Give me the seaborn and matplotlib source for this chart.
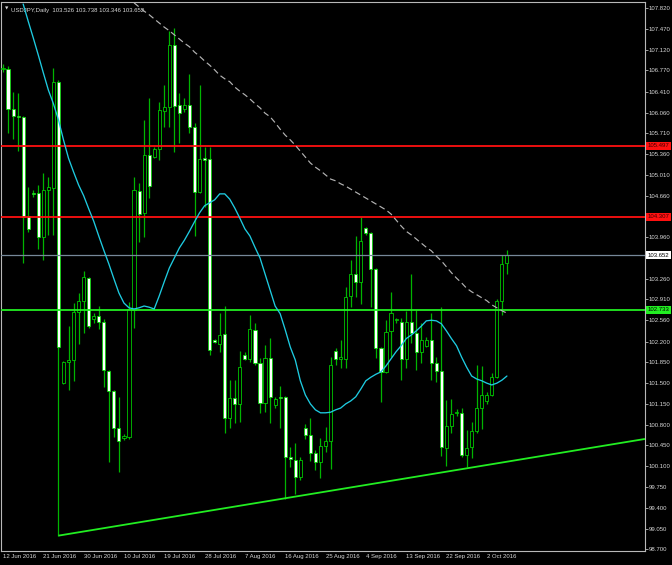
import matplotlib
matplotlib.use("Agg")
import matplotlib.pyplot as plt
import numpy as np
import pandas as pd
import seaborn as sns

# USDJPY daily bars (broker feed with Sunday bars), 12 Jun - 6 Oct 2016
opens = [106.80, 106.80, 106.12, 106.00, 105.99, 104.32, 104.70, 104.70, 103.96, 104.76,
         104.79, 106.58, 101.50, 101.86, 101.89, 102.70, 102.89, 103.27, 102.58, 102.63,
         102.53, 101.71, 101.37, 100.74, 100.58, 100.59, 102.73, 104.74, 104.37, 105.35,
         105.31, 105.45, 106.09, 106.15, 107.20, 106.19, 106.12, 106.19, 105.82, 104.72,
         105.29, 105.28, 102.23, 102.16, 102.33, 100.91, 101.25, 101.15, 101.97, 101.91,
         102.40, 101.84, 101.17, 101.92, 101.13, 101.27, 101.27, 100.26, 100.21, 99.92,
         100.74, 100.63, 100.32, 100.17, 100.44, 100.53, 102.04, 101.90, 101.91, 102.97,
         103.34, 103.21, 104.12, 104.03, 103.42, 102.09, 101.69, 102.38, 102.56, 102.53,
         101.91, 102.53, 102.35, 102.03, 102.13, 102.23, 101.84, 101.71, 100.41, 100.78,
         101.00, 101.00, 100.29, 100.42, 100.69, 101.08, 101.20, 101.30, 101.60, 102.89,
         103.526]
highs = [106.88, 106.85, 106.41, 106.39, 106.00, 104.81, 104.76, 104.84, 105.04, 104.97,
         106.81, 106.61, 101.87, 102.46, 102.85, 103.02, 103.39, 103.29, 102.68, 102.80,
         102.58, 101.72, 101.39, 101.27, 100.64, 102.87, 104.98, 104.87, 105.94, 106.31,
         105.48, 106.24, 106.53, 107.44, 107.49, 106.39, 106.31, 106.71, 105.89, 106.53,
         105.48, 105.48, 102.25, 102.68, 102.80, 101.55, 101.55, 102.04, 102.03, 102.65,
         102.51, 101.92, 102.14, 102.26, 101.27, 101.45, 101.29, 100.42, 100.49, 100.26,
         100.81, 100.91, 100.37, 100.58, 100.76, 101.94, 102.09, 102.23, 103.12, 103.58,
         103.98, 104.30, 104.14, 104.05, 103.44, 102.11, 102.56, 103.04, 102.60, 102.60,
         102.72, 103.34, 102.73, 102.51, 102.28, 102.68, 101.94, 102.78, 101.22, 101.23,
         101.07, 101.08, 100.71, 100.85, 101.81, 101.79, 101.35, 101.67, 102.92, 103.66,
         103.738]
lows = [106.74, 105.72, 105.62, 105.41, 103.53, 104.05, 104.64, 103.76, 103.58, 104.00,
        104.00, 98.93, 101.49, 101.39, 101.54, 102.16, 102.35, 102.43, 102.51, 102.41,
        101.44, 100.17, 100.59, 100.00, 100.54, 100.56, 102.43, 103.88, 103.96, 104.62,
        105.30, 105.26, 105.82, 105.82, 105.40, 105.55, 106.07, 105.72, 103.98, 104.70,
        104.47, 101.97, 102.18, 102.03, 100.66, 100.74, 100.83, 100.85, 101.89, 101.86,
        101.81, 100.99, 101.01, 100.83, 101.08, 100.74, 99.55, 100.09, 99.63, 99.87,
        100.56, 100.19, 100.04, 99.90, 100.34, 100.05, 101.81, 101.76, 101.76, 102.78,
        102.95, 102.83, 104.00, 102.78, 101.92, 101.18, 101.67, 101.94, 102.51, 101.55,
        101.76, 102.18, 101.72, 101.84, 102.11, 101.55, 101.52, 100.27, 100.10, 100.66,
        100.95, 100.26, 100.09, 100.24, 100.66, 100.73, 101.15, 101.28, 101.59, 102.65,
        103.346]
closes = [106.82, 106.12, 106.00, 105.99, 104.30, 104.10, 104.69, 103.96, 104.76, 104.81,
          106.58, 102.11, 101.86, 101.89, 102.70, 102.89, 103.29, 102.46, 102.63, 102.53,
          101.72, 101.37, 100.74, 100.53, 100.61, 102.75, 104.76, 104.35, 105.35, 104.82,
          105.45, 106.10, 106.15, 107.20, 106.17, 106.05, 106.19, 105.82, 104.72, 105.28,
          105.26, 102.06, 102.19, 102.31, 100.91, 101.25, 101.15, 101.77, 101.91, 102.41,
          101.84, 101.17, 101.92, 101.27, 101.23, 101.25, 100.26, 100.22, 99.92, 100.21,
          100.63, 100.32, 100.17, 100.44, 100.53, 101.81, 101.91, 101.94, 102.95, 103.34,
          103.21, 103.90, 104.03, 103.42, 102.09, 101.69, 102.36, 102.68, 102.58, 101.91,
          102.53, 102.35, 102.03, 102.23, 102.23, 101.84, 101.70, 100.42, 100.78, 100.98,
          101.01, 100.29, 100.41, 100.69, 101.08, 101.30, 101.30, 101.60, 102.89, 103.51,
          103.652]

# fast moving average (cyan), visible from bar 4
ma_fast_start = 4
ma_fast = [107.89, 107.60, 107.32, 107.03, 106.73, 106.44, 106.21, 105.94, 105.60, 105.29,
           105.06, 104.84, 104.66, 104.44, 104.23, 103.98, 103.74, 103.51, 103.26, 103.02,
           102.85, 102.77, 102.75, 102.77, 102.80, 102.78, 102.75, 102.97, 103.21, 103.44,
           103.61, 103.78, 103.91, 104.06, 104.22, 104.37, 104.49, 104.54, 104.59, 104.69,
           104.69, 104.60, 104.45, 104.28, 104.10, 103.98, 103.79, 103.61, 103.34, 103.07,
           102.80, 102.67, 102.40, 102.11, 101.89, 101.54, 101.30, 101.15, 101.05, 101.00,
           101.00, 101.01, 101.05, 101.08, 101.15, 101.20, 101.27, 101.40, 101.54, 101.60,
           101.65, 101.69, 101.79, 101.91, 102.03, 102.13, 102.25, 102.31, 102.38, 102.46,
           102.55, 102.56, 102.55, 102.50, 102.38, 102.25, 102.13, 101.94, 101.77, 101.62,
           101.57, 101.54, 101.50, 101.47, 101.50, 101.55, 101.62]

# slow moving average (grey dashes), visible from bar 26
ma_slow_start = 26
ma_slow = [107.91, 107.84, 107.77, 107.71, 107.64, 107.57, 107.50, 107.44, 107.37, 107.30,
           107.23, 107.17, 107.08, 107.01, 106.93, 106.86, 106.78, 106.69, 106.63, 106.58,
           106.49, 106.42, 106.36, 106.29, 106.21, 106.14, 106.05, 105.99, 105.89, 105.78,
           105.68, 105.60, 105.51, 105.41, 105.31, 105.21, 105.14, 105.08, 105.01, 104.94,
           104.91, 104.86, 104.82, 104.77, 104.72, 104.67, 104.62, 104.57, 104.52, 104.47,
           104.42, 104.35, 104.25, 104.15, 104.06, 104.00, 103.93, 103.86, 103.79, 103.73,
           103.64, 103.56, 103.46, 103.36, 103.27, 103.19, 103.10, 103.04, 102.99, 102.94,
           102.89, 102.82, 102.77, 102.72, 102.68]

# horizontal levels drawn on the chart
resistance_levels = [105.497, 104.307]
support_level = 102.733
bid_level = 103.652

# trend line anchors (bar, price), drawn as a ray to the right
trend_bars = [11, 56]
trend_prices = [98.93, 99.56]

date_bars = [0, 8, 16, 24, 32, 40, 48, 56, 64, 72, 80, 88, 96]
date_labels = ["12 Jun 2016", "21 Jun 2016", "30 Jun 2016", "10 Jul 2016", "19 Jul 2016",
               "28 Jul 2016", "7 Aug 2016", "16 Aug 2016", "25 Aug 2016", "4 Sep 2016",
               "13 Sep 2016", "22 Sep 2016", "2 Oct 2016"]

price_ticks = [107.820, 107.470, 107.120, 106.770, 106.410, 106.060, 105.710, 105.360,
               105.010, 104.660, 103.960, 103.260, 102.910, 102.560, 102.200, 101.850,
               101.500, 101.150, 100.800, 100.450, 100.100, 99.750, 99.400, 99.050, 98.700]

title = "USDJPY,Daily  103.526 103.738 103.346 103.652"

# colours (MT4 "green on black")
BG = "black"
WICK = "#00b400"
EDGE = "#00d800"
TEXT = "#d8d8d8"
FRAME = "#b8b8b8"
FS = 4.3

sns.set_style("dark", {"axes.facecolor": BG, "figure.facecolor": BG})
plt.rcParams["font.family"] = ["Liberation Sans", "DejaVu Sans"]

df = pd.DataFrame({"open": opens, "high": highs, "low": lows, "close": closes})
df["bar"] = np.arange(len(df))
bull = df["close"] >= df["open"]

fig = plt.figure(figsize=(6.72, 5.65), dpi=100)
fig.patch.set_facecolor(BG)
ax = fig.add_axes([1 / 672, 14 / 565, 644 / 672, 549 / 565])
ax.set_facecolor(BG)

# candles: wicks, then bodies (white = bearish, black = bullish)
ax.vlines(df["bar"], df["low"], df["high"], color=WICK, lw=0.9, zorder=2)
body_low = df[["open", "close"]].min(axis=1)
body_h = (df["close"] - df["open"]).abs().clip(lower=0.012)
ax.bar(df["bar"], body_h, bottom=body_low, width=0.62,
       color=np.where(bull, BG, "white"), edgecolor=EDGE, linewidth=0.55, zorder=3)

# moving averages
fast = pd.DataFrame({"bar": np.arange(ma_fast_start, ma_fast_start + len(ma_fast)), "ma": ma_fast})
slow = pd.DataFrame({"bar": np.arange(ma_slow_start, ma_slow_start + len(ma_slow)), "ma": ma_slow})
sns.lineplot(data=fast, x="bar", y="ma", ax=ax, color="#1ecbe0", linewidth=0.95, zorder=5)
sns.lineplot(data=slow, x="bar", y="ma", ax=ax, color="#b4b4b4", linewidth=0.85,
             linestyle=(0, (5, 3)), zorder=5)

# horizontal lines
for lvl in resistance_levels:
    ax.axhline(lvl, color="#ff1010", lw=1.3, zorder=4)
ax.axhline(bid_level, color="#778899", lw=0.9, zorder=4)
ax.axhline(support_level, color="#22ee22", lw=1.3, zorder=4)

x_min, x_max = -0.4, 127.4
y_min, y_max = 98.671, 107.924

# trend line ray
slope = (trend_prices[1] - trend_prices[0]) / (trend_bars[1] - trend_bars[0])
ax.plot([trend_bars[0], x_max], [trend_prices[0], trend_prices[0] + slope * (x_max - trend_bars[0])],
        color="#22ee22", lw=1.3, zorder=5, solid_capstyle="butt")

ax.set_xlim(x_min, x_max)
ax.set_ylim(y_min, y_max)
ax.set_xlabel("")
ax.set_ylabel("")
ax.grid(False)

# axes, ticks
for s in ax.spines.values():
    s.set_color(FRAME)
    s.set_linewidth(0.8)
    s.set_visible(True)
ax.yaxis.tick_right()
ax.set_yticks(price_ticks)
ax.set_yticklabels([f"{p:.3f}" for p in price_ticks])
ax.set_xticks(date_bars)
ax.set_xticklabels(date_labels, ha="left")
ax.tick_params(axis="y", colors=FRAME, labelcolor=TEXT, labelsize=FS, length=2, width=0.6, pad=0.8,
               right=True, left=False)
ax.tick_params(axis="x", colors=FRAME, labelcolor=TEXT, labelsize=FS, length=2, width=0.6, pad=0.5)

# price tags on the right scale
tags = [(resistance_levels[0], "#ff1010", "#400000"),
        (resistance_levels[1], "#ff1010", "#400000"),
        (bid_level, "white", "black"),
        (support_level, "#22ee22", "black")]
for lvl, fc, tc in tags:
    ax.text(1.0045, lvl, f"{lvl:.3f}", transform=ax.get_yaxis_transform(), ha="left", va="center",
            fontsize=FS, color=tc, zorder=6, clip_on=False,
            bbox=dict(boxstyle="square,pad=0.25", fc=fc, ec="none"))

# chart title
fig.text(5 / 672, 1 - 9 / 565, "\u25bc", fontsize=3.2, color=TEXT, va="center", ha="left",
         family="DejaVu Sans")
ax.text(0.016, 0.985, title, transform=ax.transAxes, fontsize=FS, color=TEXT, va="center", ha="left")

fig.savefig("out.png", dpi=100, facecolor=BG)
